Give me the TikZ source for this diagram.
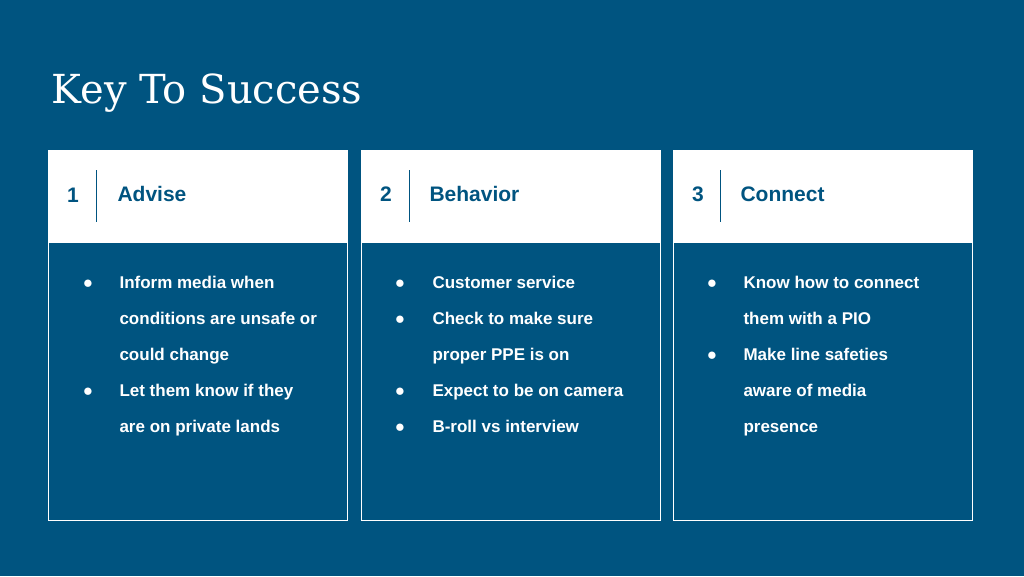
\documentclass[tikz,border=0pt]{standalone}
\usepackage{fontspec}
\setmainfont{Liberation Sans}
\newfontfamily\titlefont{DejaVu Serif}
\definecolor{deepblue}{RGB}{0,84,128}
\newcommand{\w}{299}

\begin{document}
\begin{tikzpicture}[x=1pt,y=-1pt,
    head/.style={draw=white, fill=white, anchor=north west, minimum width=\w pt, minimum height=92pt, inner sep=0pt},
    card/.style={draw=white, line width=0.8pt, anchor=north west, minimum width=\w pt, minimum height=370pt, inner sep=0pt},
    num/.style={anchor=center, text=deepblue, text height=15pt, text depth=0pt, font=\fontsize{21}{24}\selectfont\bfseries},
    headlabel/.style={anchor=west, text=deepblue, text height=15pt, text depth=5pt, font=\fontsize{21}{24}\selectfont\bfseries},
    item/.style={anchor=west, text=white, text height=13pt, text depth=4pt, font=\fontsize{17}{20}\selectfont\bfseries},
    dot/.style={anchor=center, text=white, font=\fontsize{17}{20}\selectfont}]
    \fill[deepblue] (0,0) rectangle (1024,576);
    \node[anchor=west, text=white, font=\titlefont\fontsize{40}{44}\selectfont] (title) at (48,93) {Key To Success};

    % First card
    \node[card] (card-1) at (48,150) {};
    \node[head] (head-1) at (48,150) {};
    \node[num] (num-1) at (73,195) {1};
    \draw[deepblue] (96,170) -- (96,222);
    \node[headlabel] (label-1) at (114,196) {Advise};
    \node[dot] at (88,284) {●}; \node[item] (item-1-1) at (116,284) {Inform media when};
    \node[item] (item-1-2) at (116,320) {conditions are unsafe or};
    \node[item] (item-1-3) at (116,356) {could change};
    \node[dot] at (88,392) {●}; \node[item] (item-1-4) at (116,392) {Let them know if they};
    \node[item] (item-1-5) at (116,428) {are on private lands};

    % Second card
    \node[card] (card-2) at (361,150) {};
    \node[head] (head-2) at (361,150) {};
    \node[num] (num-2) at (386,194) {2};
    \draw[deepblue] (409,170) -- (409,222);
    \node[headlabel] (label-2) at (426,196) {Behavior};
    \node[dot] at (400,284) {●}; \node[item] (item-2-1) at (429,284) {Customer service};
    \node[dot] at (400,320) {●}; \node[item] (item-2-2) at (429,320) {Check to make sure};
    \node[item] (item-2-3) at (429,356) {proper PPE is on};
    \node[dot] at (400,392) {●}; \node[item] (item-2-4) at (429,392) {Expect to be on camera};
    \node[dot] at (400,428) {●}; \node[item] (item-2-5) at (429,428) {B-roll vs interview};

    % Third card
    \node[card] (card-3) at (673,150) {};
    \node[head] (head-3) at (673,150) {};
    \node[num] (num-3) at (698,194) {3};
    \draw[deepblue] (720,170) -- (720,222);
    \node[headlabel] (label-3) at (737,196) {Connect};
    \node[dot] at (712,284) {●}; \node[item] (item-3-1) at (740,284) {Know how to connect};
    \node[item] (item-3-2) at (740,320) {them with a PIO};
    \node[dot] at (712,356) {●}; \node[item] (item-3-3) at (740,356) {Make line safeties};
    \node[item] (item-3-4) at (740,392) {aware of media};
    \node[item] (item-3-5) at (740,428) {presence};
\end{tikzpicture}
\end{document}
